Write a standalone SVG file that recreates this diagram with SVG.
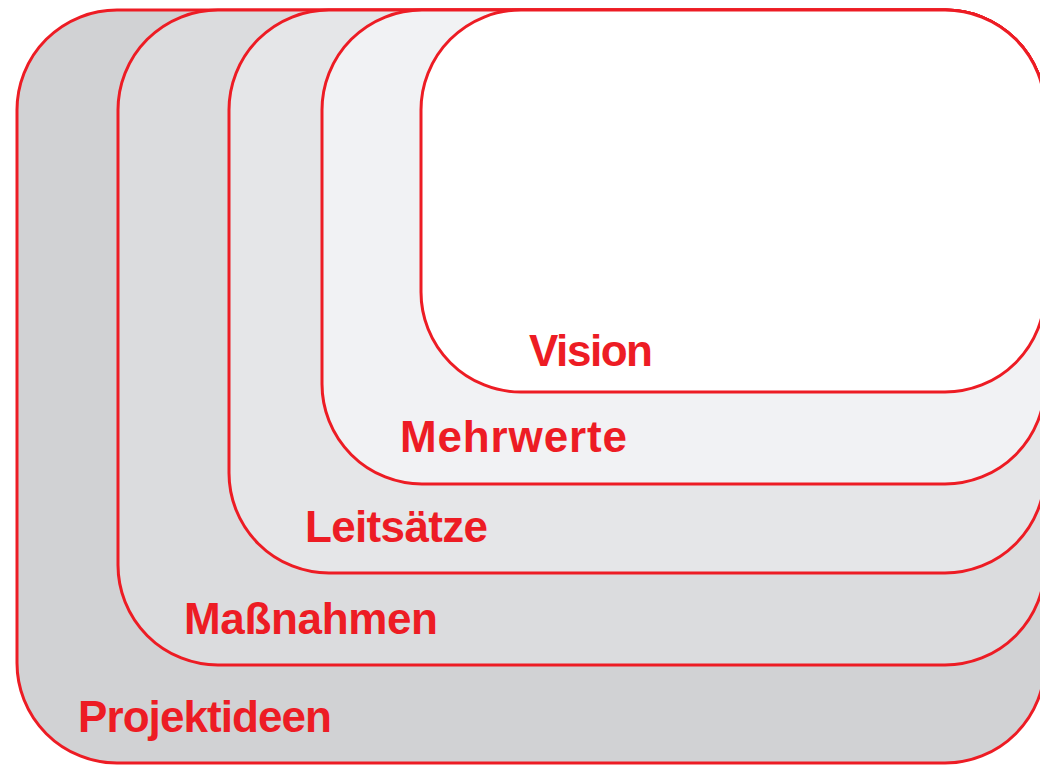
<svg xmlns="http://www.w3.org/2000/svg" width="1040" height="765" viewBox="0 0 1040 765">
<style>
.box{stroke:#ED1C24;stroke-width:3}
.lbl{font-family:"Liberation Sans",Arial,sans-serif;font-weight:bold;font-size:44px;fill:#ED1C24}
</style>
<rect width="1040" height="765" fill="#FFFFFF"/>
<g id="projektideen">
<rect class="box" x="17" y="10" width="1028" height="753" rx="100" fill="#D1D2D4"/>
<text class="lbl" x="78" y="732" textLength="254" lengthAdjust="spacing">Projektideen</text>
</g>
<g id="massnahmen">
<rect class="box" x="118" y="10" width="927" height="655" rx="100" fill="#DBDCDE"/>
<text class="lbl" x="184" y="634" textLength="254" lengthAdjust="spacing">Maßnahmen</text>
</g>
<g id="leitsaetze">
<rect class="box" x="229" y="10" width="816" height="563" rx="100" fill="#E5E6E8"/>
<text class="lbl" x="305" y="542" textLength="183" lengthAdjust="spacing">Leitsätze</text>
</g>
<g id="mehrwerte">
<rect class="box" x="322" y="10" width="723" height="474" rx="100" fill="#F1F2F4"/>
<text class="lbl" x="400" y="452" textLength="227" lengthAdjust="spacing">Mehrwerte</text>
</g>
<g id="vision">
<rect class="box" x="421" y="10" width="624" height="382" rx="100" fill="#FFFFFF"/>
<text class="lbl" x="529" y="366" textLength="124" lengthAdjust="spacing">Vision</text>
</g>
<g id="connectors"></g>
</svg>
